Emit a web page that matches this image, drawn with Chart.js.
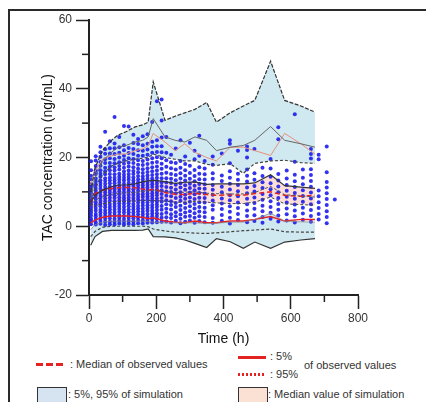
<!DOCTYPE html>
<html>
<head>
<meta charset="utf-8">
<script src="https://cdn.jsdelivr.net/npm/chart.js@4.4.0/dist/chart.umd.min.js"></script>
<style>
  body { margin: 0; width: 426px; height: 402px; overflow: hidden; background: #fff; position: relative;
         font-family: "Liberation Sans", Arial, sans-serif; }
  #frame { position: absolute; left: 8px; top: 9px; width: 500px; height: 500px;
           border-top: 2px solid #2a2a2a; border-left: 2px solid #2a2a2a; }
  #wrap { position: absolute; left: 0; top: 0; width: 426px; height: 350px; }
  .lg { position: absolute; font-size: 11px; color: #333; white-space: nowrap; line-height: 13px; }
  .mark { position: absolute; }
  .box { position: absolute; width: 28px; height: 18px; border: 1px solid #333; }
</style>
</head>
<body>
<div id="frame"></div>
<div id="wrap"><canvas id="vpc"></canvas></div>

<!-- legend -->
<div class="mark" style="left:36px;top:363px;width:28px;height:3px;background:repeating-linear-gradient(to right,#e52222 0 7px,transparent 7px 10px);"></div>
<div class="lg" style="left:70px;top:358px;">: Median of observed values</div>
<div class="mark" style="left:238px;top:356px;width:28px;height:3px;background:#e52222;"></div>
<div class="lg" style="left:270px;top:350px;">: 5%</div>
<div class="mark" style="left:238px;top:373px;width:28px;height:3px;background:repeating-linear-gradient(to right,#e52222 0 2px,transparent 2px 4px);"></div>
<div class="lg" style="left:270px;top:368px;">: 95%</div>
<div class="lg" style="left:304px;top:359px;">of observed values</div>
<div class="box" style="left:37px;top:387px;background:#d6e4f2;"></div>
<div class="lg" style="left:68px;top:388px;">: 5%, 95% of simulation</div>
<div class="box" style="left:238px;top:387px;background:#fbe0d4;"></div>
<div class="lg" style="left:268px;top:388px;">: Median value of simulation</div>

<script>
// simulation bins (h)
const simTimes = [5, 18, 40, 67, 86, 110, 137, 160, 176, 191, 226, 256, 285, 315, 350, 379, 420, 459, 493, 540, 582, 630, 672];

// 95th percentile: simulated CI and observed
const sim95Hi  = [10, 17, 22, 25, 26.5, 27.5, 28.9, 29.5, 30.3, 42, 30.8, 32, 33, 34, 36, 30.3, 33, 35, 36.6, 48, 36.6, 35, 33.2];
const sim95Mid = [8, 14, 19, 21.5, 23, 23.5, 24.5, 25, 26, 31.3, 26, 25, 24.5, 26, 25, 22, 23, 23.5, 25, 29, 25, 24, 23];
const sim95Lo  = [6, 11, 15, 17.5, 18.3, 19, 19.5, 19.8, 20, 21, 20, 19.5, 19, 19, 18, 17.7, 18.2, 15.4, 18.3, 19, 19.2, 18.5, 18.3];
const obs95    = [12, 16, 19.5, 20.5, 21, 21, 22, 22.5, 23.5, 27, 24.5, 22, 24, 21.5, 20, 19, 23, 23, 22, 20.6, 27, 24, 21];

// median: simulated CI and observed
const sim50Hi  = [7, 9, 10.5, 11.5, 12, 12, 12.3, 13, 13.2, 13.4, 13, 12.5, 12.8, 12.9, 12.2, 12.3, 12.3, 12.3, 12.6, 15, 11.8, 11.4, 11];
const sim50Mid = [5.8, 7.6, 8.6, 9.3, 9.6, 9.7, 9.8, 10.2, 10.3, 10.4, 10.1, 9.8, 9.9, 10, 9.6, 9.5, 9.4, 9.4, 9.8, 11.6, 9.2, 8.8, 8.5];
const sim50Lo  = [4.5, 6, 6.5, 7, 7.2, 7.3, 7.3, 7.5, 7.5, 7.5, 7.3, 7, 7, 7.2, 7, 6.8, 6.6, 6.6, 7, 8.5, 6.5, 6.3, 6.1];
const obs50    = [7, 9.5, 10.5, 11, 11.2, 11.3, 11.2, 10.8, 10.5, 10.8, 9.8, 9.3, 9.2, 9.6, 9.2, 9, 9.1, 9, 9.5, 10, 9, 8.7, 9];

// 5th percentile: simulated CI and observed
const sim5Hi  = [-1, 0.5, 1.2, 1.5, 1.5, 1.5, 1.5, 1.5, 1.4, 1.2, 1, 1, 1, 1, 0.8, 0.9, 1.2, 1.2, 2, 3.8, 1.5, 1.3, 1.2];
const sim5Mid = [-3, -1.5, -0.3, 0, 0, 0, 0, 0, -0.1, -0.8, -1.4, -1.7, -1.8, -2, -2.1, -1.9, -1.6, -1.3, -1.1, -0.8, -1.6, -1.7, -1.7];
const sim5Lo  = [-5.5, -3, -1.5, -1.2, -1.2, -1.2, -1.2, -1.1, -0.8, -3, -3.1, -3.4, -4, -5, -6.2, -3.6, -4.5, -6.4, -4.6, -6.4, -4.6, -4, -3.6];
const obs5    = [1, 1.8, 2.6, 3, 3, 3, 2.8, 2.6, 2.2, 2.5, 1.5, 1.2, 1, 1.5, 1, 1, 1.5, 1.5, 2, 2.8, 1.5, 2, 2];

// observed concentrations, one list per sampling time
const obsTimes = [6, 20, 34, 48, 62, 76, 90, 104, 118, 132, 146, 160, 174, 188, 202, 216,
                  230, 244, 258, 272, 286, 300, 314, 328, 344,
                  368, 395, 419, 443, 470, 492, 516, 540, 563, 588, 612, 636, 660, 683, 707, 731];
const obsConc = [
  [0.6, 1.5, 2.2, 3.1, 4.0, 4.7, 5.6, 6.4, 7.1, 8.0, 8.8, 9.7, 10.5, 11.4, 12.2, 13.6, 14.7, 16.3, 18.9],
  [0.5, 1.2, 2.1, 2.9, 3.6, 4.5, 5.3, 6.2, 7.0, 7.9, 8.8, 9.5, 10.4, 11.2, 12.1, 13.0, 13.9, 15.2, 16.3, 17.5, 19.1, 20.4],
  [0.7, 1.6, 2.4, 3.3, 4.1, 4.8, 5.8, 6.6, 7.4, 8.3, 9.1, 10.0, 10.9, 11.8, 12.6, 13.4, 14.4, 15.3, 16.3, 17.6, 18.7, 20.2, 21.5, 23.1],
  [0.4, 1.3, 2.2, 3.0, 3.8, 4.6, 5.5, 6.3, 7.2, 8.1, 9.0, 9.8, 10.6, 11.4, 12.3, 13.2, 14.0, 15.1, 16.0, 17.0, 18.4, 19.5, 21.1, 22.4, 27.5],
  [0.6, 1.4, 2.3, 3.2, 4.1, 4.9, 5.7, 6.5, 7.4, 8.3, 9.2, 10.0, 10.8, 11.6, 12.5, 13.4, 14.2, 15.2, 16.3, 17.3, 18.4, 19.8, 21.2, 22.7, 24.7],
  [0.5, 1.3, 2.2, 3.1, 3.9, 4.8, 5.7, 6.5, 7.3, 8.2, 9.0, 9.9, 10.7, 11.6, 12.5, 13.3, 14.1, 15.1, 16.2, 17.2, 18.3, 19.6, 21.0, 22.7, 24.1, 31.8],
  [0.8, 1.7, 2.5, 3.3, 4.2, 5.1, 5.9, 6.7, 7.5, 8.4, 9.3, 10.2, 11.0, 11.8, 12.7, 13.6, 14.4, 15.3, 16.5, 17.5, 18.6, 20.0, 21.4, 23.0, 26.0],
  [0.5, 1.3, 2.1, 3.0, 3.9, 4.7, 5.6, 6.5, 7.3, 8.1, 8.9, 9.8, 10.7, 11.5, 12.4, 13.3, 14.1, 15.0, 15.9, 17.0, 18.2, 19.3, 20.5, 22.1, 23.6, 29.2],
  [0.7, 1.5, 2.4, 3.3, 4.1, 4.9, 5.8, 6.7, 7.5, 8.3, 9.2, 10.1, 10.9, 11.7, 12.6, 13.5, 14.3, 15.2, 16.2, 17.4, 18.5, 19.8, 21.3, 22.8, 29.0],
  [0.6, 1.4, 2.3, 3.1, 4.0, 4.9, 5.7, 6.5, 7.4, 8.2, 9.1, 9.9, 10.8, 11.7, 12.5, 13.3, 14.2, 15.2, 16.1, 17.2, 18.4, 19.6, 21.0, 22.5, 24.2, 26.6],
  [0.9, 1.8, 2.6, 3.5, 4.4, 5.2, 6.0, 6.9, 7.8, 8.6, 9.4, 10.3, 11.2, 12.0, 12.8, 13.7, 14.6, 15.7, 16.7, 17.9, 19.2, 20.5, 22.1, 23.9, 25.4],
  [0.8, 1.7, 2.6, 3.4, 4.2, 5.1, 6.0, 6.8, 7.6, 8.5, 9.3, 10.2, 11.1, 11.9, 12.7, 13.6, 14.5, 15.5, 16.6, 17.8, 19.0, 20.5, 22.0, 23.6, 26.2],
  [1.0, 1.9, 2.7, 3.6, 4.5, 5.3, 6.1, 7.0, 7.9, 8.7, 9.5, 10.4, 11.3, 12.1, 12.9, 13.8, 14.8, 15.8, 16.9, 18.1, 19.4, 20.8, 22.3, 24.0, 26.8],
  [1.1, 2.0, 2.9, 3.7, 4.5, 5.4, 6.2, 7.1, 8.0, 8.8, 9.6, 10.5, 11.4, 12.2, 13.0, 13.9, 14.9, 16.0, 17.2, 18.5, 19.8, 21.4, 23.1, 24.6, 30.3],
  [1.2, 2.1, 3.0, 3.8, 4.7, 5.6, 6.4, 7.2, 8.1, 9.0, 9.8, 10.6, 11.5, 12.4, 13.2, 14.1, 15.1, 16.2, 17.4, 18.7, 20.1, 21.6, 23.3, 25.0, 36.4],
  [1.3, 2.5, 3.6, 4.8, 5.9, 7.1, 8.2, 9.4, 10.5, 11.7, 12.8, 14.0, 15.3, 16.7, 18.2, 19.8, 21.5, 23.3, 25.8, 30.8, 36.9],
  [1.4, 2.6, 3.9, 5.1, 6.4, 7.6, 8.9, 10.1, 11.4, 12.7, 14.0, 15.6, 17.3, 19.2, 21.4, 26.0],
  [1.1, 2.4, 3.5, 4.9, 6.2, 7.3, 8.7, 10.0, 11.2, 12.6, 13.8, 15.2, 16.9, 18.6, 20.8],
  [1.6, 2.9, 4.1, 5.6, 6.8, 8.2, 9.5, 10.7, 12.1, 13.4, 14.9, 16.5, 18.4, 22.6],
  [0.9, 2.2, 3.4, 4.7, 6.0, 7.4, 8.6, 9.9, 11.3, 12.5, 13.9, 15.4, 17.0, 19.0, 25.0],
  [1.3, 2.8, 4.0, 5.3, 6.7, 8.0, 9.2, 10.6, 11.9, 13.3, 14.7, 16.3, 18.1, 20.3],
  [1.7, 3.0, 4.4, 5.8, 7.1, 8.4, 9.8, 11.1, 12.4, 13.8, 15.5, 17.6, 24.3],
  [1.0, 2.5, 3.8, 5.2, 6.5, 7.9, 9.3, 10.5, 11.8, 13.1, 14.6, 16.4, 19.5, 22.0],
  [1.5, 2.9, 4.3, 5.6, 7.0, 8.3, 9.7, 11.0, 12.3, 13.7, 15.3, 17.2, 20.5, 26.3],
  [1.2, 2.7, 4.1, 5.4, 6.9, 8.2, 9.5, 10.9, 12.2, 13.6, 15.1, 16.8, 19.0],
  [1.0, 2.4, 4.8, 6.1, 7.5, 9.2, 10.6, 12.0, 13.8, 15.4, 17.9, 20.3],
  [1.6, 3.3, 5.0, 6.6, 8.1, 9.9, 11.5, 13.2, 14.8, 21.2],
  [0.8, 2.5, 4.2, 5.8, 7.6, 9.0, 10.7, 12.4, 14.1, 16.0, 18.3, 24.0, 25.0],
  [1.8, 3.6, 5.3, 6.9, 8.7, 10.2, 12.0, 13.5, 15.3, 22.0],
  [1.2, 3.0, 4.6, 6.4, 8.0, 9.6, 11.3, 13.0, 14.7, 16.5, 20.0, 22.2, 23.2],
  [1.5, 3.2, 5.1, 6.8, 8.4, 10.1, 11.7, 13.5, 15.4, 22.5],
  [1.0, 2.7, 4.4, 6.0, 7.7, 9.4, 11.1, 12.8, 14.6, 17.0],
  [2.2, 3.9, 5.6, 7.3, 9.0, 10.8, 12.5, 14.4, 16.8, 19.6],
  [1.4, 3.1, 4.8, 6.5, 8.2, 9.9, 11.6, 13.3, 15.2, 25.3, 28.8],
  [1.7, 3.5, 5.2, 6.9, 8.6, 10.3, 12.0, 13.9, 16.2],
  [1.1, 2.9, 4.6, 6.3, 8.0, 9.7, 11.4, 13.1, 15.0, 18.8, 32.6],
  [1.9, 3.7, 5.4, 7.1, 8.8, 10.5, 12.2, 14.1, 16.5],
  [1.3, 3.0, 4.7, 6.4, 8.1, 9.8, 11.5, 13.2, 14.9, 16.6, 19.7, 21.0, 22.5],
  [2.0, 3.6, 5.3, 7.0, 8.7, 10.4, 19.5, 20.8],
  [0.9, 2.7, 4.4, 6.2, 7.9, 9.6, 11.3, 12.9, 15.7, 23.2],
  [7.8]
];

// axis ticks
const xMinorTicks = [100, 300, 500, 700];
const yMinorTicks = [-10, 10, 30, 50];

const toXY = vals => vals.map((v, i) => ({ x: simTimes[i], y: v }));
const obsPoints = [];
obsTimes.forEach((t, i) => obsConc[i].forEach(c => obsPoints.push({ x: t, y: c })));

const bandBlue = 'rgb(208,232,240)';
const bandPeach = 'rgb(252,224,216)';

// fill-only datasets (upper edge fills down to the next one)
const band = (vals, color) => ({ data: toXY(vals), borderWidth: 0, pointRadius: 0, fill: color ? '+1' : false, backgroundColor: color, order: 3 });
// line-only datasets
const edge = (vals, color, width, dash) => ({ data: toXY(vals), borderColor: color, borderWidth: width, borderDash: dash || [], pointRadius: 0, fill: false, tension: 0, order: 1 });

// minor tick marks, placed through the chart scales
const minorTicks = {
    id: 'minorTicks',
    afterDraw(chart) {
        const ctx = chart.ctx;
        const xs = chart.scales.x, ys = chart.scales.y;
        ctx.save();
        ctx.strokeStyle = '#222';
        ctx.lineWidth = 1.5;
        xMinorTicks.forEach(v => {
            const px = xs.getPixelForValue(v);
            ctx.beginPath(); ctx.moveTo(px, ys.bottom); ctx.lineTo(px, ys.bottom + 7); ctx.stroke();
        });
        yMinorTicks.forEach(v => {
            const py = ys.getPixelForValue(v);
            ctx.beginPath(); ctx.moveTo(xs.left, py); ctx.lineTo(xs.left - 7, py); ctx.stroke();
        });
        ctx.restore();
    }
};

const tickFont = { family: '"Liberation Sans", Arial, sans-serif', size: 12 };

new Chart(document.getElementById('vpc'), {
    type: 'line',
    data: {
        datasets: [
            band(sim95Hi, bandBlue),
            band(sim95Lo),
            band(sim50Hi, bandPeach),
            band(sim50Lo),
            band(sim5Hi, bandBlue),
            band(sim5Lo),
            {
                type: 'scatter',
                data: obsPoints,
                showLine: false,
                pointRadius: 2,
                pointBorderWidth: 0,
                pointBackgroundColor: 'rgba(28,28,238,0.9)',
                order: 2
            },
            edge(sim95Hi, '#333', 1.2, [4, 1.5]),
            edge(sim95Mid, '#666', 1),
            edge(sim95Lo, '#444', 1.2, [3, 2]),
            edge(obs95, '#e8907a', 1),
            edge(sim50Hi, '#333', 1.2),
            edge(sim50Mid, '#555', 1, [3, 2]),
            edge(sim50Lo, '#444', 1, [3, 2]),
            edge(obs50, '#e52222', 1.5, [5, 3]),
            edge(sim5Hi, '#888', 0.8),
            edge(sim5Mid, '#444', 1.2, [3, 2]),
            edge(sim5Lo, '#333', 1.2),
            edge(obs5, '#e52222', 1.5)
        ]
    },
    options: {
        responsive: true,
        maintainAspectRatio: false,
        animation: false,
        layout: { padding: { left: 0, top: 20, right: 68, bottom: 0 } },
        plugins: { legend: { display: false }, tooltip: { enabled: false } },
        scales: {
            x: {
                type: 'linear',
                min: 0, max: 800,
                afterFit: scale => { scale.height = 55; },
                ticks: { stepSize: 200, color: '#333', font: tickFont, padding: 2, maxRotation: 0 },
                grid: { drawOnChartArea: false, drawTicks: true, tickLength: 14, tickColor: '#222', tickWidth: 1.5 },
                border: { display: true, color: '#222', width: 2 },
                title: { display: true, text: 'Time (h)', color: '#111', font: { family: '"Liberation Sans", Arial, sans-serif', size: 14 }, padding: { top: 0, bottom: 2 } }
            },
            y: {
                min: -20, max: 60,
                afterFit: scale => { scale.width = 89; },
                ticks: { stepSize: 20, color: '#333', font: tickFont, padding: 4 },
                grid: { drawOnChartArea: false, drawTicks: true, tickLength: 13, tickColor: '#222', tickWidth: 1.5 },
                border: { display: true, color: '#222', width: 2 },
                title: { display: true, text: 'TAC concentration (ng/mL)', color: '#111', font: { family: '"Liberation Sans", Arial, sans-serif', size: 14 }, padding: { top: 40, bottom: 0 } }
            }
        }
    },
    plugins: [minorTicks]
});
</script>
</body>
</html>
